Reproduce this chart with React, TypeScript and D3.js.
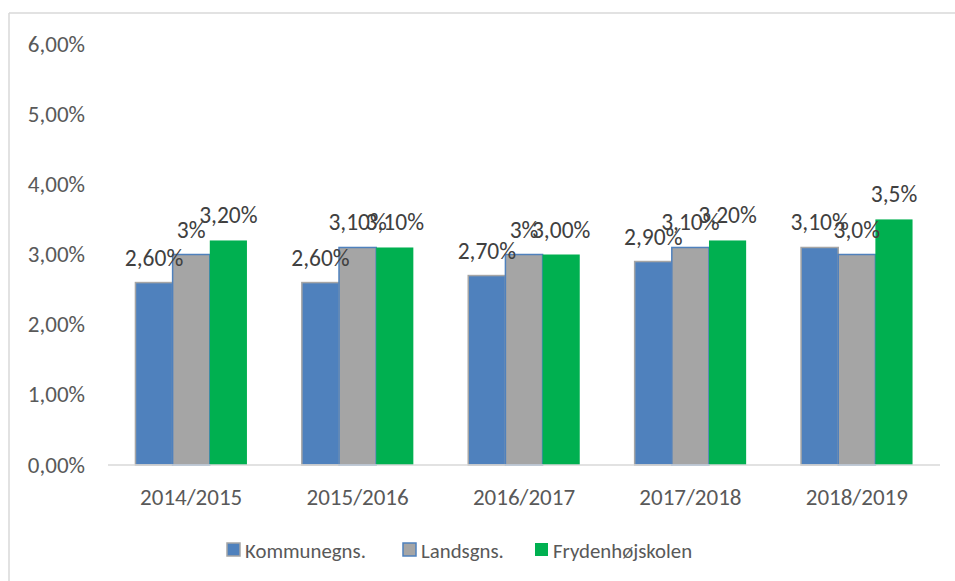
import * as d3 from 'd3';

const years = ['2014/2015', '2015/2016', '2016/2017', '2017/2018', '2018/2019'];
const seriesNames = ['Kommunegns.', 'Landsgns.', 'Frydenhøjskolen'];
const kommune = [2.6, 2.6, 2.7, 2.9, 3.1];
const lands = [3.0, 3.1, 3.0, 3.1, 3.0];
const skole = [3.2, 3.1, 3.0, 3.2, 3.5];
const kommuneLabels = ['2,60%', '2,60%', '2,70%', '2,90%', '3,10%'];
const landsLabels = ['3%', '3,10%', '3%', '3,10%', '3,0%'];
const skoleLabels = ['3,20%', '3,10%', '3,00%', '3,20%', '3,5%'];
const yTicks = [0, 1, 2, 3, 4, 5, 6];

const fills = ['#4f81bd', '#a5a5a5', '#00b050'];
const strokes = ['#a5a5a5', '#4f81bd', 'none'];
const font = "Calibri, Carlito, 'Open Sans', sans-serif";

export default function App() {
    const width = 955;
    const height = 581;
    const left = 108, right = 940, top = 44, bottom = 465;

    const series = [kommune, lands, skole];
    const labels = [kommuneLabels, landsLabels, skoleLabels];

    const x0 = d3.scaleBand().domain(years).range([left, right]).paddingInner(0.33).paddingOuter(0.165);
    const x1 = d3.scaleBand().domain(seriesNames).range([0, x0.bandwidth()]);
    const y = d3.scaleLinear().domain([0, 6]).range([bottom, top]);

    const fmt = (v: number) => d3.format('.2f')(v).replace('.', ',') + '%';

    const legendX = [227, 403, 535];

    return (
        <svg width={width} height={height} style={{ position: 'absolute', left: 0, top: 0 }} fontFamily={font}>
            <rect x={0} y={0} width={width} height={height} fill="#fff" />
            {/* frame */}
            <line x1={9} x2={width} y1={13} y2={13} stroke="#d9d9d9" strokeWidth={1.5} />
            <line x1={9} x2={9} y1={13} y2={height} stroke="#d9d9d9" strokeWidth={1.5} />

            {/* y axis labels */}
            {yTicks.map(t => (
                <text key={t} x={85} y={y(t) + 7.5} textAnchor="end" fontSize={23} fill="#595959">
                    {fmt(t)}
                </text>
            ))}

            {/* bars */}
            {years.map((yr, i) => (
                <g key={yr} transform={`translate(${x0(yr)},0)`}>
                    {series.map((s, j) => (
                        <rect
                            key={j}
                            x={x1(seriesNames[j])!}
                            y={y(s[i])}
                            width={x1.bandwidth()}
                            height={bottom - y(s[i])}
                            fill={fills[j]}
                            stroke={strokes[j]}
                            strokeWidth={1.5}
                        />
                    ))}
                </g>
            ))}

            {/* baseline */}
            <line x1={left} x2={right} y1={bottom} y2={bottom} stroke="#d9d9d9" strokeWidth={1.5} />

            {/* data labels */}
            {years.map((yr, i) =>
                series.map((s, j) => (
                    <text
                        key={`${yr}-${j}`}
                        x={x0(yr)! + x1(seriesNames[j])! + x1.bandwidth() / 2}
                        y={y(s[i]) - 17}
                        textAnchor="middle"
                        fontSize={23.5}
                        fill="#404040"
                    >
                        {labels[j][i]}
                    </text>
                ))
            )}

            {/* category labels */}
            {years.map(yr => (
                <text key={yr} x={x0(yr)! + x0.bandwidth() / 2} y={505} textAnchor="middle" fontSize={23} fill="#595959">
                    {yr}
                </text>
            ))}

            {/* legend */}
            {seriesNames.map((n, j) => (
                <g key={n}>
                    <rect x={legendX[j]} y={543} width={13} height={13} fill={fills[j]} stroke={strokes[j]} strokeWidth={1.5} />
                    <text x={legendX[j] + 18} y={558} fontSize={20.8} fill="#595959">{n}</text>
                </g>
            ))}
        </svg>
    );
}
